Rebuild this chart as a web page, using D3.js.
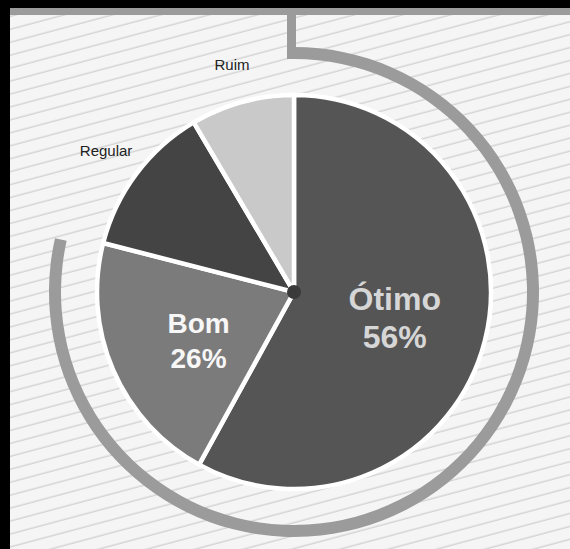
<!DOCTYPE html>
<html>
<head>
<meta charset="utf-8">
<script src="https://cdn.jsdelivr.net/npm/d3@7"></script>
<style>
  html, body { margin: 0; padding: 0; background: #ffffff; }
  svg { display: block; }
</style>
</head>
<body>
<svg id="chart" width="570" height="549"></svg>
<script>
// ---- data ----
const categories = ["Ótimo", "Bom", "Regular", "Ruim"];
const sliceValues = [58, 21, 12.5, 8.5];          // drawn slice sizes (estimated from angles)
const percentLabels = ["56%", "26%", "", ""];      // printed labels
const sliceColors = ["#555555", "#7b7b7b", "#444444", "#c9c9c9"];
const insideLabel = [true, true, false, false];
const ringCovers = ["Ótimo", "Bom"];               // outer gray arc spans these slices

const W = 570, H = 549;
const cx = 294, cy = 292;
const R = 197;

const svg = d3.select("#chart");
const defs = svg.append("defs");
const pat = defs.append("pattern")
  .attr("id", "stripes")
  .attr("patternUnits", "userSpaceOnUse")
  .attr("width", 40).attr("height", 12.5)
  .attr("patternTransform", "rotate(-15)");
pat.append("rect").attr("width", 40).attr("height", 12.5).attr("fill", "#f5f5f5");
pat.append("line").attr("x1", 0).attr("x2", 40).attr("y1", 6).attr("y2", 6)
  .attr("stroke", "#d4d4d4").attr("stroke-width", 1.4);

// background + frame
svg.append("rect").attr("width", W).attr("height", H).attr("fill", "url(#stripes)");
svg.append("rect").attr("x", 0).attr("y", 0).attr("width", W).attr("height", 8).attr("fill", "#000");
svg.append("rect").attr("x", 0).attr("y", 0).attr("width", 10).attr("height", H).attr("fill", "#000");

const ringColor = "#9b9b9b";
// top band
svg.append("rect").attr("x", 10).attr("y", 8).attr("width", W - 10).attr("height", 7).attr("fill", ringColor);

const g = svg.append("g").attr("transform", `translate(${cx},${cy})`);

const pie = d3.pie().sort(null).value(d => d.v).startAngle(0).endAngle(2 * Math.PI);
const data = categories.map((c, i) => ({ c, v: sliceValues[i], p: percentLabels[i], col: sliceColors[i], inside: insideLabel[i] }));
const arcs = pie(data);

// outer ring
const ringEnd = d3.max(arcs.filter(a => ringCovers.includes(a.data.c)), a => a.endAngle) - 0.03;
const ringArc = d3.arc().innerRadius(233).outerRadius(245);
g.append("path").attr("d", ringArc({ startAngle: 0, endAngle: ringEnd })).attr("fill", ringColor);
// vertical connector from top band to ring
svg.append("rect").attr("x", cx - 7).attr("y", 8).attr("width", 9).attr("height", cy - 245 + 12 - 8).attr("fill", ringColor);

// slices
const arc = d3.arc().innerRadius(0).outerRadius(R);
g.selectAll("path.slice").data(arcs).enter().append("path")
  .attr("class", "slice")
  .attr("d", arc)
  .attr("fill", d => d.data.col)
  .attr("stroke", "#ffffff")
  .attr("stroke-width", 4.5)
  .attr("stroke-linejoin", "round");

// center dot
g.append("circle").attr("r", 7).attr("fill", "#3a3a3a");

// inner labels
const innerArc = d3.arc().innerRadius(104).outerRadius(104);
arcs.filter(d => d.data.inside).forEach((d, i) => {
  const [x, y] = innerArc.centroid(d);
  const big = d.data.c === "Ótimo";
  const fs = big ? 32 : 28;
  const t = g.append("text")
    .attr("text-anchor", "middle")
    .attr("font-family", "Liberation Sans, Arial, sans-serif")
    .attr("font-weight", "bold")
    .attr("font-size", fs)
    .attr("fill", big ? "#d6d6d6" : "#f7f7f7");
  t.append("tspan").attr("x", x).attr("y", big ? y - 8 : y + 0).text(d.data.c);
  t.append("tspan").attr("x", x).attr("y", big ? y + 30 : y + 35).text(d.data.p);
});

// outer labels
const outerArc = d3.arc().innerRadius(235).outerRadius(235);
arcs.filter(d => !d.data.inside).forEach(d => {
  const [x, y] = outerArc.centroid(d);
  g.append("text")
    .attr("x", x).attr("y", y + 5)
    .attr("text-anchor", "middle")
    .attr("font-family", "Liberation Sans, Arial, sans-serif")
    .attr("font-size", 15)
    .attr("fill", "#222")
    .text(d.data.c);
});
</script>
</body>
</html>
